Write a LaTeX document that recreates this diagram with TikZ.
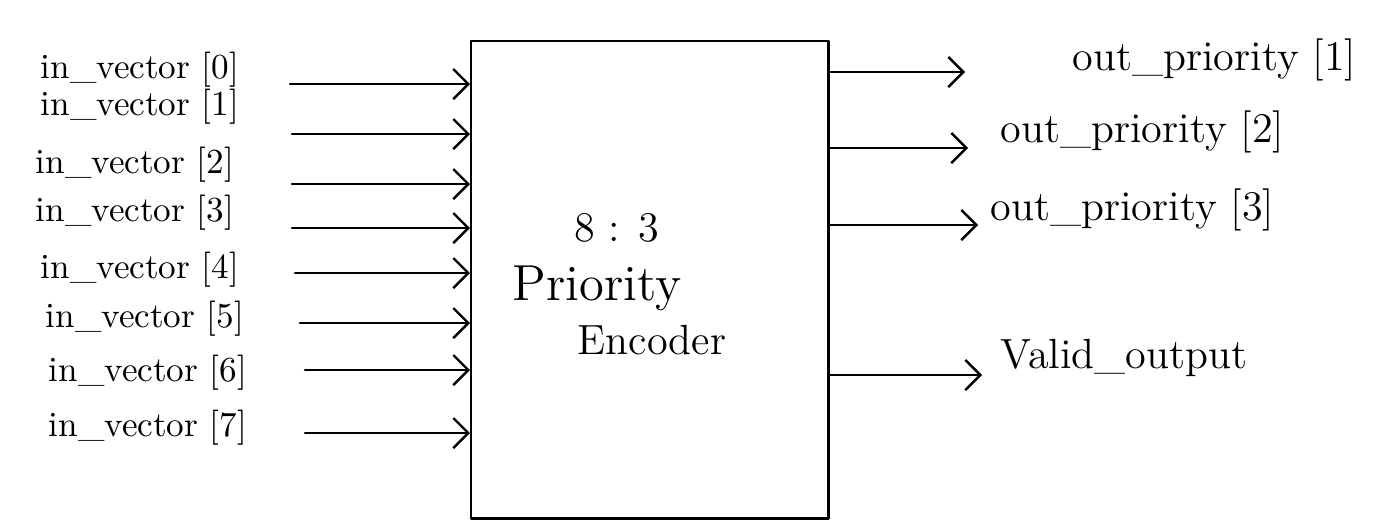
\documentclass[tikz,border=0pt]{standalone}
\usetikzlibrary{arrows.meta,positioning}
\tikzset{
  sig/.style={->, line width=0.7pt},
  inlabel/.style={anchor=west, inner sep=0pt, font=\normalsize},
  outlabel/.style={anchor=west, inner sep=0pt, font=\large},
}
\begin{document}
\begin{tikzpicture}[x=0.01cm, y=-0.01cm, line join=round, line cap=round, >={Straight Barb[length=1.5mm,width=3mm]}]
	\useasboundingbox (0,0) rectangle (1375,530);
	% encoder block
	\node[draw, line width=0.7pt, inner sep=0pt, minimum width=3.57cm, minimum height=4.77cm, anchor=north west] (enc) at (470,40) {};
	\node[font=\large] (ratio) at (617,228) {8 : 3};
	\node[font=\Large] (prio) at (597,288) {Priority};
	\node[font=\large] (encname) at (652,340) {Encoder};
	% inputs
	\foreach \i/\ly/\lx/\ay/\ax in {0/70/40/84/290, 1/107/40/134/292, 2/165/35/184/292, 3/213/35/228/292, 4/270/40/273/295, 5/319/45/323/300, 6/373/48/370/305, 7/428/48/433/305}{
		\node[inlabel] (in\i) at (\lx,\ly) {in\_vector [\i]};
		\coordinate (s\i) at (\ax,\ay);
		\draw[sig] (s\i) -- (s\i -| enc.west);
	}
	% outputs
	\foreach \j/\oy/\tx/\lx/\ly/\txt in {0/72/965/1072/60/{out\_priority [1]}, 1/148/968/1000/132/{out\_priority [2]}, 2/225/978/990/210/{out\_priority [3]}, 3/375/982/1000/358/{Valid\_output}}{
		\coordinate (t\j) at (\tx,\oy);
		\draw[sig] (t\j -| enc.east) -- (t\j);
		\node[outlabel] (out\j) at (\lx,\ly) {\txt};
	}
\end{tikzpicture}
\end{document}
